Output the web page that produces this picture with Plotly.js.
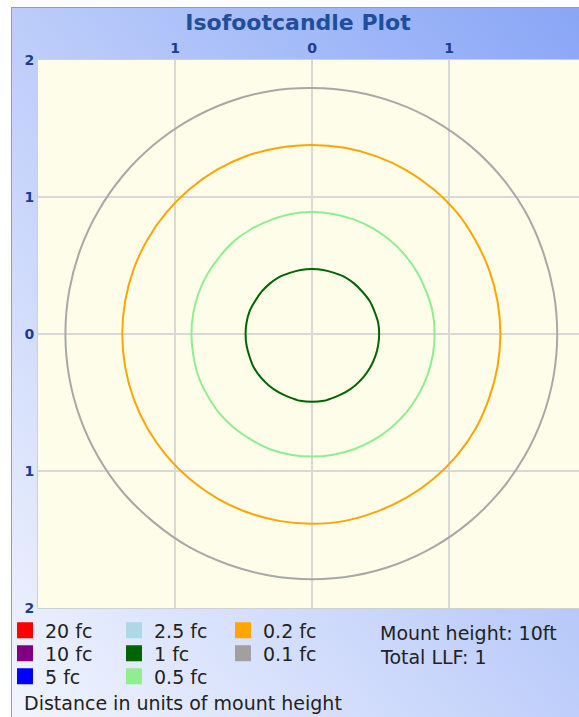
<!DOCTYPE html>
<html><head><meta charset="utf-8">
<script src="https://cdn.plot.ly/plotly-3.0.1.min.js"></script>
<style>
html,body{margin:0;padding:0;overflow:hidden;background:#fff;width:579px;height:717px;position:relative}
#frame{position:absolute;left:11px;top:7px;width:600px;height:710px;background:linear-gradient(to bottom left,#86a4f6,#f2f5fe);border-left:1px solid #7d9cf0;border-top:1px solid #7d9cf0}
#chart{position:absolute;left:0;top:0;width:600px;height:717px}
</style></head>
<body>
<div id="frame"></div>
<div id="chart"></div>
<script>
// Legend levels
const levelNames = ['20 fc','10 fc','5 fc','2.5 fc','1 fc','0.5 fc','0.2 fc','0.1 fc'];
const levelColors = ['#ff0000','#800080','#0000ff','#add8e6','#006400','#90ee90','#ffa500','#a0a0a0'];
// legend row each level is shown in (columns read top-to-bottom)
const levelLegend = ['legend','legend2','legend3','legend','legend2','legend3','legend','legend2'];

// Axis ticks
const xTickVals = [-1, 0, 1];
const xTickText = ['1', '0', '1'];
const yTickVals = [-2, -1, 0, 1, 2];
const yTickText = ['2', '1', '0', '1', '2'];

// Contour radii (units of mount height) sampled every 10 degrees
const angles = [0,10,20,30,40,50,60,70,80,90,100,110,120,130,140,150,160,170,180,190,200,210,220,230,240,250,260,270,280,290,300,310,320,330,340,350,360];
const r1fc  = [0.49,0.49,0.485,0.485,0.48,0.48,0.48,0.475,0.475,0.475,0.475,0.475,0.48,0.48,0.48,0.48,0.485,0.485,0.485,0.485,0.485,0.49,0.49,0.49,0.49,0.49,0.495,0.495,0.495,0.49,0.49,0.49,0.49,0.49,0.49,0.49,0.49];
const r05fc = [0.895,0.895,0.89,0.89,0.89,0.89,0.89,0.89,0.89,0.89,0.89,0.885,0.885,0.885,0.88,0.88,0.88,0.88,0.88,0.88,0.885,0.885,0.89,0.89,0.89,0.895,0.895,0.895,0.895,0.895,0.895,0.895,0.895,0.895,0.895,0.895,0.895];
const r02fc = [1.375,1.375,1.375,1.375,1.38,1.38,1.38,1.38,1.38,1.38,1.38,1.385,1.385,1.385,1.385,1.385,1.385,1.385,1.385,1.385,1.385,1.385,1.385,1.385,1.385,1.385,1.385,1.385,1.385,1.38,1.38,1.38,1.38,1.38,1.375,1.375,1.375];
const r01fc = [1.79,1.79,1.79,1.795,1.795,1.795,1.795,1.795,1.795,1.795,1.8,1.8,1.8,1.8,1.8,1.8,1.8,1.8,1.8,1.8,1.8,1.8,1.8,1.795,1.795,1.79,1.79,1.79,1.79,1.79,1.79,1.79,1.79,1.79,1.79,1.79,1.79];
const contours = [
  {name:'1 fc', r:r1fc, color:'#006400'},
  {name:'0.5 fc', r:r05fc, color:'#90ee90'},
  {name:'0.2 fc', r:r02fc, color:'#ffa500'},
  {name:'0.1 fc', r:r01fc, color:'#a8a8a8'}
];

const txtFont = {family:'DejaVu Sans', size:19, color:'#222222'};
const tickFont = {family:'DejaVu Sans', size:14, color:'#1c3c94', weight:'bold'};
const traces = [];
contours.forEach(c => {
  traces.push({type:'scatterpolar', mode:'lines', r:c.r, theta:angles, line:{color:c.color, width:2, shape:'spline', smoothing:1},
    showlegend:false, hoverinfo:'skip', subplot:'polar'});
});
levelNames.forEach((n,i) => {
  traces.push({type:'scatter', mode:'markers', x:[null], y:[null], name:n, legend:levelLegend[i],
    marker:{symbol:'square', size:16, color:levelColors[i]}});
});

const W = 600, H = 717;
const legendBase = {xref:'container', yref:'container', xanchor:'left', yanchor:'top', bgcolor:'rgba(0,0,0,0)',
  borderwidth:0, font:txtFont, orientation:'h', entrywidth:64, entrywidthmode:'pixels', x:5/W};

const layout = {
  width:W, height:H,
  margin:{l:38, r:14, t:60, b:109, autoexpand:false},
  paper_bgcolor:'rgba(0,0,0,0)',
  plot_bgcolor:'#fdfde9',
  showlegend:true,
  title:{text:'<b>Isofootcandle Plot</b>', font:{family:'DejaVu Sans', size:22, color:'#1f4e9c'},
    x:298/W, xref:'container', xanchor:'center', y:1-22/H, yref:'container', yanchor:'middle'},
  xaxis:{range:[-2,2], side:'top', tickvals:xTickVals, ticktext:xTickText, showgrid:true, gridcolor:'#d8d8d8', gridwidth:2,
    zeroline:false, showline:true, mirror:true, linecolor:'#d0d0d0', linewidth:1, ticks:'', fixedrange:true,
    automargin:false, tickfont:tickFont},
  yaxis:{range:[-2,2], tickvals:yTickVals, ticktext:yTickText, showgrid:true, gridcolor:'#d8d8d8', gridwidth:2,
    zeroline:false, showline:true, mirror:true, linecolor:'#d0d0d0', linewidth:1, ticks:'', fixedrange:true,
    automargin:false, tickfont:tickFont},
  polar:{domain:{x:[0,1], y:[0,1]}, bgcolor:'rgba(0,0,0,0)',
    radialaxis:{visible:false, range:[0,2]}, angularaxis:{visible:false}},
  legend: Object.assign({}, legendBase, {y:1-611.5/H}),
  legend2: Object.assign({}, legendBase, {y:1-634.5/H}),
  legend3: Object.assign({}, legendBase, {y:1-657.5/H}),
  annotations:[
    {text:'Mount height: 10ft', xref:'paper', yref:'paper', x:(378-38)/548, y:-(633-608)/548, xanchor:'left', yanchor:'middle', showarrow:false, font:txtFont},
    {text:'Total LLF: 1', xref:'paper', yref:'paper', x:(378-38)/548, y:-(657-608)/548, xanchor:'left', yanchor:'middle', showarrow:false, font:txtFont},
    {text:'Distance in units of mount height', xref:'paper', yref:'paper', x:(22-38)/548, y:-(703-608)/548, xanchor:'left', yanchor:'middle', showarrow:false, font:txtFont}
  ]
};
Plotly.newPlot('chart', traces, layout, {displayModeBar:false, staticPlot:true});
</script>
</body></html>
